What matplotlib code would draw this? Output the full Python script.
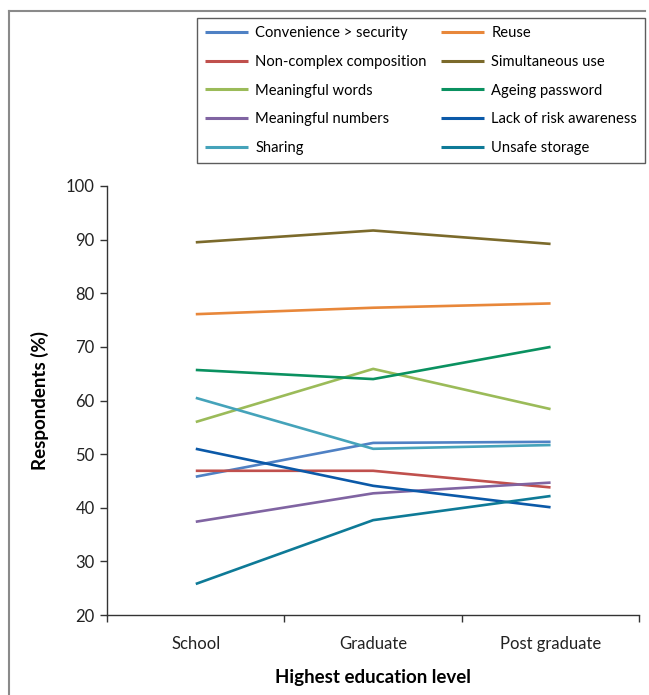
import matplotlib.pyplot as plt
from matplotlib.lines import Line2D

plt.rcParams['font.family'] = ['Lato', 'DejaVu Sans']

levels = ["School", "Graduate", "Post graduate"]

convenience = [45.8, 52.1, 52.3]
reuse = [76.1, 77.3, 78.1]
non_complex = [46.9, 46.9, 43.8]
simultaneous = [89.5, 91.7, 89.2]
meaningful_words = [56.0, 65.9, 58.4]
ageing = [65.7, 64.0, 70.0]
meaningful_numbers = [37.4, 42.7, 44.7]
lack_risk = [51.0, 44.1, 40.1]
sharing = [60.5, 51.0, 51.7]
unsafe_storage = [25.8, 37.7, 42.2]

series = [
    ("Convenience > security", convenience, "#4F81C4"),
    ("Reuse", reuse, "#E8873A"),
    ("Non-complex composition", non_complex, "#C0504D"),
    ("Simultaneous use", simultaneous, "#7B6A2B"),
    ("Meaningful words", meaningful_words, "#9BBB59"),
    ("Ageing password", ageing, "#0A9160"),
    ("Meaningful numbers", meaningful_numbers, "#8064A2"),
    ("Lack of risk awareness", lack_risk, "#0B59A8"),
    ("Sharing", sharing, "#45A3BA"),
    ("Unsafe storage", unsafe_storage, "#0E7A97"),
]

fig = plt.figure(figsize=(6.49, 6.95), dpi=100)
ax = fig.add_axes([0.165, 0.115, 0.82, 0.6174])

x = list(range(len(levels)))
lines = []
for name, vals, col in series:
    ln, = ax.plot(x, vals, color=col, lw=1.9, label=name, solid_capstyle="butt")
    lines.append(ln)

ax.set_ylim(20, 100)
ax.set_yticks(range(20, 101, 10))
ax.set_xlim(-0.5, 2.5)
ax.set_xticks(x)
ax.set_xticklabels(levels)
ax.set_xticks([-0.5, 0.5, 1.5, 2.5], minor=True)
ax.tick_params(axis="x", which="major", length=0, pad=15, labelsize=12, colors="#222222")
ax.tick_params(axis="x", which="minor", length=5, width=1, color="#333333")
ax.tick_params(axis="y", length=5, width=1, color="#333333", labelsize=12,
               labelcolor="#222222", pad=4)
for s in ["top", "right"]:
    ax.spines[s].set_visible(False)
for s in ["left", "bottom"]:
    ax.spines[s].set_color("#333333")
    ax.spines[s].set_linewidth(1)

ax.set_ylabel("Respondents (%)", fontsize=13.5, fontweight="bold", labelpad=12)
ax.set_xlabel("Highest education level", fontsize=13.5, fontweight="bold", labelpad=12)

# row-wise legend order (matplotlib fills columns first)
order = [0, 2, 4, 6, 8, 1, 3, 5, 7, 9]
leg = fig.legend([lines[i] for i in order], [series[i][0] for i in order],
                 loc="upper left", bbox_to_anchor=(197 / 649, 1 - 18 / 695), ncol=2,
                 fontsize=10.6, frameon=True, fancybox=False, handlelength=2.9,
                 handletextpad=0.5, columnspacing=1.0, labelspacing=1.0,
                 borderpad=0.55, borderaxespad=0)
leg.get_frame().set_edgecolor("#333333")
leg.get_frame().set_linewidth(1)
for h in leg.legend_handles:
    h.set_linewidth(2.2)

# outer frame of the figure panel
fc = "#8a8a8a"
fig.add_artist(Line2D([9 / 649, 9 / 649], [0, 1 - 11 / 695], transform=fig.transFigure, color=fc, lw=1.5))
fig.add_artist(Line2D([9 / 649, 645 / 649], [1 - 11 / 695, 1 - 11 / 695], transform=fig.transFigure, color=fc, lw=1.5))

fig.savefig("out.png", dpi=100)
